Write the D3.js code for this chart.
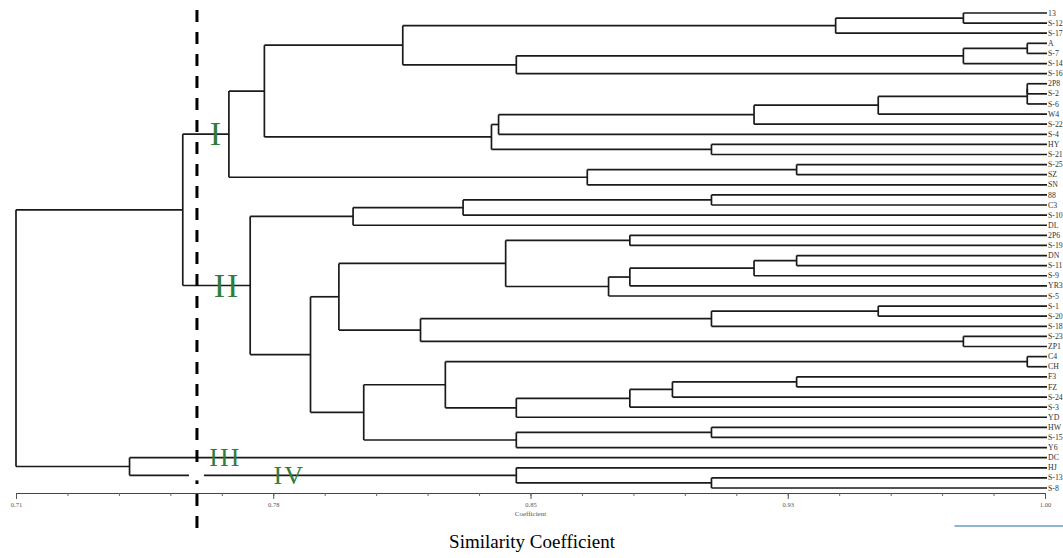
<!DOCTYPE html>
<html>
<head>
<meta charset="utf-8">
<script src="https://cdnjs.cloudflare.com/ajax/libs/d3/7.8.5/d3.min.js"></script>
<style>
  body { margin: 0; background: #fff; }
  svg { display: block; }
</style>
</head>
<body>
<svg width="1063" height="558"></svg>
<script>
// leaves, top to bottom
var leaves = ["13","S-12","S-17","A","S-7","S-14","S-16","2P8","S-2","S-6",
  "W4","S-22","S-4","HY","S-21","S-25","SZ","SN","88","C3",
  "S-10","DL","2P6","S-19","DN","S-11","S-9","YR3","S-5","S-1",
  "S-20","S-18","S-23","ZP1","C4","CH","F3","FZ","S-24","S-3",
  "YD","HW","S-15","Y6","DC","HJ","S-13","S-8"];

// merges: [childA, childB, similarity]; a number points at an earlier merge
var merges = [
  ["13","S-12",0.977],   // 0
  [0,"S-17",0.941],      // 1
  ["A","S-7",0.995],     // 2
  [2,"S-14",0.977],      // 3
  [3,"S-16",0.851],      // 4
  [1,4,0.819],           // 5
  ["2P8","S-2",0.995],   // 6
  [6,"S-6",0.995],       // 7
  [7,"W4",0.953],        // 8
  [8,"S-22",0.918],      // 9
  [9,"S-4",0.846],       // 10
  ["HY","S-21",0.906],   // 11
  [10,11,0.844],         // 12
  [5,12,0.780],          // 13
  ["S-25","SZ",0.930],   // 14
  [14,"SN",0.871],       // 15
  [13,15,0.770],         // 16
  ["88","C3",0.906],     // 17
  [17,"S-10",0.836],     // 18
  [18,"DL",0.805],       // 19
  ["2P6","S-19",0.883],  // 20
  ["DN","S-11",0.930],   // 21
  [21,"S-9",0.918],      // 22
  [22,"YR3",0.883],      // 23
  [23,"S-5",0.877],      // 24
  [20,24,0.848],         // 25
  ["S-1","S-20",0.953],  // 26
  [26,"S-18",0.906],     // 27
  ["S-23","ZP1",0.977],  // 28
  [27,28,0.824],         // 29
  [25,29,0.801],         // 30
  ["C4","CH",0.995],     // 31
  ["F3","FZ",0.930],     // 32
  [32,"S-24",0.895],     // 33
  [33,"S-3",0.883],      // 34
  [34,"YD",0.851],       // 35
  [31,35,0.831],         // 36
  ["HW","S-15",0.906],   // 37
  [37,"Y6",0.851],       // 38
  [36,38,0.808],         // 39
  [30,39,0.793],         // 40
  [19,40,0.776],         // 41
  [16,41,0.757],         // 42
  ["S-13","S-8",0.906],  // 43
  ["HJ",43,0.851],       // 44
  ["DC",44,0.742],       // 45
  [42,45,0.710]          // 46
];

var tickValues = [0.71, 0.7825, 0.855, 0.9275, 1.00];
var tickLabels = ["0.71", "0.78", "0.85", "0.93", "1.00"];
var minorTicks = d3.range(0, 21).map(function(i){ return 0.71 + i * 0.0145; });
var cutoff = 0.761;
var groupLabels = ["I", "II", "III", "IV"];

var svg = d3.select("svg");

var x = d3.scaleLinear().domain([0.71, 1.00]).range([16, 1045]);
var y = d3.scalePoint().domain(leaves).range([13, 488]);

// lay out the merges
var nodes = [];
function ref(r) {
  if (typeof r === "number") return nodes[r];
  return { x: x(1.00) + 2, y: y(r), name: r };
}
merges.forEach(function(m){
  var a = ref(m[0]), b = ref(m[1]);
  nodes.push({ x: x(m[2]), y: (a.y + b.y) / 2, kids: [a, b] });
});

var segs = [];
nodes.forEach(function(n){
  segs.push("M" + n.x + "," + n.kids[0].y + "V" + n.kids[1].y);
  n.kids.forEach(function(k){
    segs.push("M" + n.x + "," + k.y + "H" + k.x);
  });
});

svg.append("g").selectAll("path")
  .data(segs)
  .enter().append("path")
  .attr("d", function(d){ return d; })
  .attr("fill", "none")
  .attr("stroke", "#1a1a1a")
  .attr("stroke-width", 1.7);

// leaf labels
svg.append("g").selectAll("text")
  .data(leaves)
  .enter().append("text")
  .attr("x", x(1.00) + 3)
  .attr("y", function(d){ return y(d) + 2.6; })
  .attr("font-family", "Liberation Serif, serif")
  .attr("font-size", "7.8px")
  .attr("fill", "#333")
  .text(function(d){ return d; });

// axis
var axisY = 493;
var minor = d3.axisBottom(x).tickValues(minorTicks).tickSize(3).tickSizeOuter(0).tickFormat("");
var major = d3.axisBottom(x).tickValues(tickValues).tickSize(6).tickSizeOuter(0)
  .tickFormat(function(d, i){ return tickLabels[i]; });

var gMinor = svg.append("g").attr("transform", "translate(0," + axisY + ")").call(minor);
gMinor.select(".domain").attr("stroke", "#444");
gMinor.selectAll(".tick line").attr("stroke", "#666");

var gMajor = svg.append("g").attr("transform", "translate(0," + axisY + ")").call(major);
gMajor.select(".domain").remove();
gMajor.selectAll(".tick line").attr("stroke", "#555");
gMajor.selectAll(".tick text")
  .attr("y", 9)
  .attr("font-family", "Liberation Serif, serif")
  .attr("font-size", "6.5px")
  .attr("fill", "#555");

svg.append("text")
  .attr("x", x(0.855))
  .attr("y", axisY + 23)
  .attr("text-anchor", "middle")
  .attr("font-family", "Liberation Serif, serif")
  .attr("font-size", "7px")
  .attr("fill", "#555")
  .text("Coefficient");

// faint blue strip at bottom right
svg.append("line")
  .attr("x1", x(0.9745)).attr("x2", 1063)
  .attr("y1", axisY + 33).attr("y2", axisY + 33)
  .attr("stroke", "#8db6cf")
  .attr("stroke-width", 2);

// group labels
var groupPos = [
  { x: 0.7665, y: nodes[16].y, size: 34 },
  { x: 0.7695, y: nodes[41].y, size: 34 },
  { x: 0.7690, y: y("DC"), size: 26 },
  { x: 0.7870, y: nodes[44].y, size: 26 }
];
svg.append("g").selectAll("text")
  .data(groupLabels)
  .enter().append("text")
  .attr("x", function(d, i){ return x(groupPos[i].x); })
  .attr("y", function(d, i){ return groupPos[i].y + groupPos[i].size * 0.33; })
  .attr("text-anchor", "middle")
  .attr("font-family", "Liberation Serif, serif")
  .attr("font-size", function(d, i){ return groupPos[i].size + "px"; })
  .attr("letter-spacing", "2px")
  .attr("fill", "#2f7d3b")
  .text(function(d){ return d; });

// dashed cut line
svg.append("line")
  .attr("x1", x(cutoff)).attr("x2", x(cutoff))
  .attr("y1", 10).attr("y2", 528)
  .attr("stroke", "#000")
  .attr("stroke-width", 3)
  .attr("stroke-dasharray", "12,10");

svg.append("rect")
  .attr("x", x(cutoff) - 8).attr("y", nodes[44].y - 5)
  .attr("width", 15).attr("height", 10)
  .attr("fill", "#fff");

// title
svg.append("text")
  .attr("x", 532)
  .attr("y", 548)
  .attr("text-anchor", "middle")
  .attr("font-family", "Liberation Serif, serif")
  .attr("font-size", "19px")
  .attr("fill", "#000")
  .text("Similarity Coefficient");
</script>
</body>
</html>
